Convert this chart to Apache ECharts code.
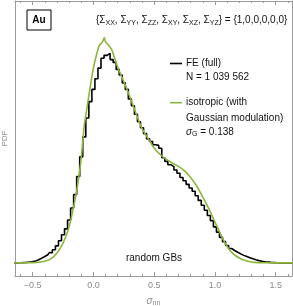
<!DOCTYPE html>
<html><head><meta charset="utf-8">
<script src="https://cdn.jsdelivr.net/npm/echarts@6/dist/echarts.min.js"></script>
<style>html,body{margin:0;padding:0;background:#fff}#c{width:293px;height:306px}</style>
</head><body><div id="c"></div>
<script>
// FE (full) histogram: bin centres start at feStart, spacing feBin
const feStart = -0.65;
const feBin = 0.025;
const feValues = [0,0,0.001,0.002,0.003,0.005,0.008,0.012,0.019,0.029,0.039,0.050,0.063,0.080,0.104,0.135,0.172,0.208,0.262,0.335,0.418,0.528,0.648,0.770,0.885,0.985,1.060,1.125,1.190,1.250,1.268,1.280,1.242,1.225,1.182,1.148,1.100,1.060,1.002,0.960,0.908,0.862,0.826,0.790,0.758,0.742,0.722,0.718,0.700,0.642,0.620,0.600,0.588,0.568,0.548,0.522,0.502,0.480,0.458,0.438,0.410,0.382,0.352,0.322,0.290,0.258,0.220,0.188,0.156,0.130,0.106,0.088,0.076,0.065,0.055,0.046,0.039,0.032,0.025,0.019,0.014,0.010,0.007,0.005,0.003,0.002,0.001,0,0,0,0,0,0];
// isotropic (with Gaussian modulation)
const isoX = [-0.65,-0.6,-0.55,-0.5,-0.45,-0.4,-0.35,-0.3,-0.25,-0.2,-0.15,-0.125,-0.1,-0.075,-0.05,-0.025,0,0.025,0.05,0.075,0.09,0.1,0.125,0.15,0.175,0.2,0.25,0.3,0.35,0.4,0.45,0.5,0.55,0.6,0.65,0.7,0.75,0.8,0.85,0.9,0.95,1.0,1.05,1.1,1.15,1.2,1.25,1.3,1.35,1.4,1.45,1.5,1.55,1.6,1.65];
const isoY = [0,0,0.001,0.002,0.004,0.010,0.025,0.060,0.120,0.220,0.390,0.500,0.640,0.840,0.960,1.080,1.190,1.270,1.330,1.350,1.376,1.350,1.330,1.305,1.250,1.195,1.108,1.015,0.915,0.820,0.760,0.702,0.662,0.632,0.610,0.590,0.562,0.522,0.470,0.402,0.330,0.250,0.170,0.100,0.055,0.030,0.014,0.006,0.002,0.001,0,0,0,0,0];
const majorTicks = [-0.5,0,0.5,1,1.5];
const minorTicks = [-0.6,-0.4,-0.3,-0.2,-0.1,0.1,0.2,0.3,0.4,0.6,0.7,0.8,0.9,1.1,1.2,1.3,1.4,1.6];

const feData = feValues.map((v,i)=>[feStart + i*feBin, v]);
const isoData = isoX.map((x,i)=>[x, isoY[i]]);

const FONT = '"Liberation Sans", Arial, sans-serif';
const frame = '#9a9a9a';
const XMIN = -0.645, XMAX = 1.634;

function xAx(pos, ticks, len, line, labels){
  return {
    type:'value', position:pos, min:XMIN, max:XMAX,
    axisLine:{show:line, onZero:false, lineStyle:{color:frame, width:1}},
    axisTick:{show:true, inside:true, length:len, customValues:ticks, lineStyle:{color:frame}},
    axisLabel:labels ? {show:true, customValues:ticks, color:'#8a8a8a', fontSize:9, fontFamily:FONT, margin:5,
      formatter:v=> (v<0?'\u2212':'') + Math.abs(v).toFixed(1)} : {show:false},
    splitLine:{show:false}
  };
}
const xAxes = [
  xAx('bottom', majorTicks, 4, true, true),
  xAx('bottom', minorTicks, 2, false, false),
  xAx('top', majorTicks, 4, true, false),
  xAx('top', minorTicks, 2, false, false)
];
xAxes[0].name = '{i|σ}{s|nn}';
xAxes[0].nameLocation = 'middle';
xAxes[0].nameGap = 19;
xAxes[0].nameTextStyle = {color:'#8a8a8a', fontFamily:FONT, fontSize:10,
  rich:{i:{fontStyle:'italic', fontSize:10, color:'#8a8a8a', fontFamily:FONT}, s:{fontSize:7, color:'#8a8a8a', fontFamily:FONT, padding:[5,0,0,0]}}};

const chart = echarts.init(document.getElementById('c'), null, {renderer:'canvas'});
chart.setOption({
  animation:false,
  grid:{left:15, right:1, top:1, bottom:30, containLabel:false, outerBoundsMode:'none'},
  xAxis: xAxes,
  yAxis:[
    {type:'value', position:'left', min:-0.08, max:1.6,
     axisLine:{show:true, onZero:false, lineStyle:{color:frame}}, axisTick:{show:false}, axisLabel:{show:false}, splitLine:{show:false},
     name:'PDF', nameLocation:'middle', nameRotate:90, nameGap:6,
     nameTextStyle:{color:'#8a8a8a', fontSize:8, fontFamily:FONT}},
    {type:'value', position:'right', min:-0.08, max:1.6,
     axisLine:{show:true, onZero:false, lineStyle:{color:frame}}, axisTick:{show:false}, axisLabel:{show:false}, splitLine:{show:false}}
  ],
  series:[
    {type:'line', name:'FE (full)', data:feData, step:'middle', showSymbol:false, xAxisIndex:0, yAxisIndex:0,
     lineStyle:{color:'#000', width:1.6}, clip:true, z:2},
    {type:'line', name:'isotropic', data:isoData, showSymbol:false, smooth:0.2, xAxisIndex:0, yAxisIndex:0,
     lineStyle:{color:'#8db43c', width:1.6}, clip:true, z:3}
  ],
  graphic:[
    {type:'rect', shape:{x:27, y:10, width:24, height:20}, style:{fill:'#fff', stroke:'#000', lineWidth:1}, z:10},
    {type:'text', x:39, y:20, style:{text:'Au', font:'bold 10px '+FONT, fill:'#000', align:'center', verticalAlign:'middle'}, z:11},
    {type:'text', x:96, y:20.5, z:11, style:{
      text:'{Σ{s|XX}, Σ{s|YY}, Σ{s|ZZ}, Σ{s|XY}, Σ{s|XZ}, Σ{s|YZ}} = {1,0,0,0,0,0}',
      verticalAlign:'middle', align:'left', fill:'#111', fontSize:10, fontFamily:FONT,
      rich:{s:{fontSize:7, fontFamily:FONT, color:'#111', padding:[5,0,0,0]}}
    }},
    {type:'line', shape:{x1:170, y1:63.5, x2:182, y2:63.5}, style:{stroke:'#000', lineWidth:1.6}, z:11},
    {type:'text', x:186, y:63.5, z:11, style:{text:'FE (full)', font:'10px '+FONT, fill:'#111', verticalAlign:'middle'}},
    {type:'text', x:186, y:77, z:11, style:{text:'N = 1 039 562', font:'10px '+FONT, fill:'#111', verticalAlign:'middle'}},
    {type:'line', shape:{x1:170, y1:102.7, x2:182, y2:102.7}, style:{stroke:'#8db43c', lineWidth:1.6}, z:11},
    {type:'text', x:186, y:102.7, z:11, style:{text:'isotropic (with', font:'10px '+FONT, fill:'#111', verticalAlign:'middle'}},
    {type:'text', x:186, y:118.3, z:11, style:{text:'Gaussian modulation)', font:'10px '+FONT, fill:'#111', verticalAlign:'middle'}},
    {type:'text', x:186, y:132, z:11, style:{
      text:'{i|σ}{s|G}{t| = 0.138}', verticalAlign:'middle', fill:'#111',
      rich:{i:{fontStyle:'italic', fontSize:10, fontFamily:FONT, color:'#111'}, t:{fontSize:10, fontFamily:FONT, color:'#111'}, s:{fontSize:7, fontFamily:FONT, color:'#111', padding:[5,0,0,0]}}
    }},
    {type:'text', x:154, y:258, z:11, style:{text:'random GBs', font:'10px '+FONT, fill:'#111', align:'center', verticalAlign:'middle'}}
  ]
});
</script></body></html>
